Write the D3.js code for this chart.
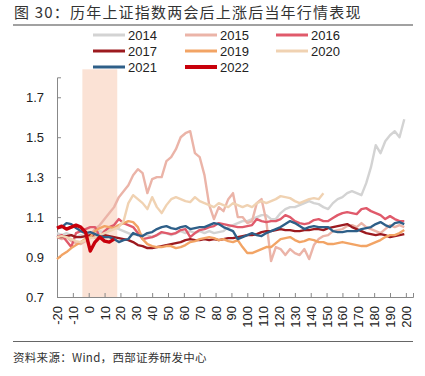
<!DOCTYPE html>
<html>
<head>
<meta charset="utf-8">
<script src="https://cdn.jsdelivr.net/npm/d3@7/dist/d3.min.js"></script>
<style>
body{margin:0;background:#fff;}
svg{display:block;}
</style>
</head>
<body>
<svg id="chart" width="425" height="376"></svg>
<script>
// trading days relative to the NPC/CPPCC sessions
const days = [-20,-17,-14,-11,-8,-5,-2,1,4,7,10,13,16,19,22,25,28,31,34,37,40,43,46,49,52,55,58,61,64,67,70,73,76,79,82,85,88,91,94,97,100,103,106,109,112,115,118,121,124,127,130,133,136,139,142,145,148,151,154,157,160,163,166,169,172,175,178,181,184,187,190,193,196,199];

const y2014 = [1.02,1.01,1.02,1.01,1.00,1.01,1.00,1.01,1.02,1.03,1.02,1.04,1.05,1.04,1.03,1.02,1.01,1.02,1.01,1.01,1.00,1.01,1.02,1.02,1.01,1.02,1.03,1.02,1.03,1.02,1.03,1.02,1.03,1.02,1.025,1.03,1.05,1.06,1.07,1.08,1.08,1.09,1.10,1.11,1.11,1.09,1.09,1.12,1.14,1.15,1.15,1.16,1.17,1.18,1.17,1.165,1.15,1.14,1.17,1.19,1.20,1.22,1.23,1.22,1.21,1.27,1.35,1.46,1.42,1.48,1.51,1.53,1.50,1.59];
const y2015 = [1.00,0.99,1.00,0.98,0.97,0.965,0.98,1.01,1.04,1.06,1.09,1.12,1.15,1.20,1.23,1.26,1.31,1.34,1.32,1.22,1.29,1.30,1.30,1.38,1.40,1.44,1.50,1.52,1.53,1.42,1.40,1.31,1.16,1.09,1.15,1.13,1.19,1.22,1.10,1.10,1.07,1.08,1.17,1.19,1.08,0.88,0.95,0.94,0.91,0.94,0.92,0.91,0.94,0.89,0.96,0.99,1.005,1.01,1.03,1.035,1.04,1.055,1.06,1.05,1.07,1.05,1.04,1.03,1.02,1.04,1.06,1.05,1.06,1.05];
const y2016 = [1.00,1.01,0.98,0.95,1.02,1.03,1.04,1.05,1.05,1.00,1.03,1.05,1.06,1.09,1.07,1.06,1.05,1.02,0.99,0.995,1.00,1.01,1.025,1.02,1.015,1.02,1.035,1.04,1.00,1.02,1.035,1.04,1.05,1.055,1.07,1.065,1.06,1.055,1.05,1.05,1.055,1.06,1.09,1.08,1.075,1.08,1.08,1.09,1.11,1.10,1.08,1.07,1.065,1.07,1.085,1.09,1.08,1.08,1.095,1.11,1.12,1.125,1.12,1.115,1.14,1.145,1.13,1.12,1.11,1.09,1.105,1.09,1.08,1.08];
const y2017 = [1.00,1.00,1.005,1.01,1.00,1.00,1.005,1.01,1.00,1.005,1.01,1.005,1.00,0.995,0.99,0.985,0.975,0.96,0.955,0.945,0.945,0.95,0.955,0.96,0.965,0.97,0.975,0.985,0.99,0.985,0.985,0.99,0.985,0.99,0.985,0.99,0.995,0.995,1.00,1.005,1.01,1.01,1.015,1.025,1.03,1.03,1.035,1.04,1.035,1.035,1.03,1.03,1.035,1.035,1.04,1.04,1.035,1.045,1.05,1.055,1.06,1.065,1.05,1.04,1.03,1.02,1.015,1.01,1.015,1.01,1.00,1.005,1.01,1.015];
const y2019 = [0.89,0.91,0.925,0.945,0.96,0.975,0.99,1.00,1.03,1.045,1.055,1.05,1.045,1.06,1.07,1.08,1.075,1.05,0.99,0.965,0.955,0.95,0.95,0.955,0.955,0.945,0.95,0.96,0.975,0.98,0.99,0.995,1.00,0.995,0.985,0.99,0.98,0.975,0.985,0.95,0.92,0.92,0.93,0.94,0.95,0.95,0.97,0.99,0.995,1.00,0.985,0.975,0.98,0.99,0.985,0.975,0.975,0.965,0.965,0.97,0.975,0.97,0.965,0.96,0.955,0.955,0.965,0.975,0.985,1.00,1.01,1.01,1.02,1.035];
const y2020 = [1.00,1.005,1.00,0.99,0.98,0.975,0.985,0.995,1.00,1.01,1.02,1.03,1.04,1.05,1.08,1.17,1.21,1.19,1.17,1.14,1.20,1.15,1.12,1.16,1.19,1.20,1.19,1.18,1.175,1.20,1.18,1.17,1.16,1.15,1.17,1.16,1.15,1.17,1.16,1.15,1.16,1.15,1.17,1.18,1.17,1.18,1.19,1.205,1.20,1.195,1.18,1.17,1.18,1.19,1.195,1.19,1.22];
const y2021 = [1.045,1.05,1.07,1.065,1.045,1.03,1.02,1.025,1.015,1.005,1.00,1.00,0.99,0.975,0.985,0.99,1.02,1.01,1.005,1.02,1.025,1.04,1.05,1.055,1.045,1.04,1.05,1.055,1.04,1.045,1.05,1.05,1.06,1.07,1.065,1.05,1.04,1.03,0.99,1.00,1.01,1.02,1.01,1.005,1.02,1.03,1.04,1.05,1.065,1.08,1.07,1.055,1.04,1.05,1.055,1.05,1.05,1.05,1.03,1.025,1.025,1.03,1.03,1.03,1.04,1.045,1.05,1.065,1.075,1.06,1.05,1.07,1.075,1.065];
const y2022 = [1.045,1.055,1.04,1.05,1.06,1.05,1.025,0.93,0.975,1.00,0.98,0.975,0.99];

const shadeRange = [-4, 18];
const shadeTop = 1.84;

const yTicks = [0.7, 0.9, 1.1, 1.3, 1.5, 1.7];
const xTicks = [-20,-10,0,10,20,30,40,50,60,70,80,90,100,110,120,130,140,150,160,170,180,190,200];

const series = [
  {name: "2014", values: y2014, color: "#d3d3d3", w: 2.4},
  {name: "2015", values: y2015, color: "#ebb4a8", w: 2.4},
  {name: "2016", values: y2016, color: "#e05a6b", w: 2.4},
  {name: "2017", values: y2017, color: "#9c1a1f", w: 2.4},
  {name: "2019", values: y2019, color: "#f2a465", w: 2.4},
  {name: "2020", values: y2020, color: "#f0d2b2", w: 2.4},
  {name: "2021", values: y2021, color: "#2e5f88", w: 2.4},
  {name: "2022", values: y2022, color: "#c8000b", w: 3.4}
];

const svg = d3.select("#chart");
const font = "'Liberation Sans', Arial, sans-serif";
const cjk = "'Noto Sans CJK SC', sans-serif";

// title
svg.append("text")
  .attr("x", 14).attr("y", 17.5)
  .attr("font-family", cjk).attr("font-size", 15).attr("fill", "#333")
  .attr("letter-spacing", 1.2)
  .text("图 30：历年上证指数两会后上涨后当年行情表现");
svg.append("line").attr("x1", 13).attr("x2", 413).attr("y1", 25).attr("y2", 25)
  .attr("stroke", "#444").attr("stroke-width", 1.2);

const x = d3.scaleLinear().domain([-20, 204.5]).range([57, 413]);
const y = d3.scaleLinear().domain([0.7, 1.8]).range([297, 77.3]);

// shaded window
svg.append("rect")
  .attr("x", x(shadeRange[0])).attr("width", x(shadeRange[1]) - x(shadeRange[0]))
  .attr("y", y(shadeTop)).attr("height", y(0.7) - y(shadeTop))
  .attr("fill", "#fbe2d5");

// axes
const gy = svg.append("g").attr("transform", "translate(57,0)")
  .call(d3.axisLeft(y).tickValues(yTicks).tickFormat(d3.format(".1f")).tickSize(-4).tickPadding(13));
const gx = svg.append("g").attr("transform", "translate(0,297)")
  .call(d3.axisBottom(x).tickValues(xTicks).tickFormat(d => d).tickSize(-4));

[gy, gx].forEach(g => {
  g.select(".domain").attr("stroke", "#888");
  g.selectAll(".tick line").attr("stroke", "#888");
  g.selectAll("text").attr("font-family", font).attr("font-size", 13).attr("fill", "#222");
});
gx.selectAll(".tick text")
  .attr("transform", "rotate(-90)")
  .attr("text-anchor", "end")
  .attr("x", -9).attr("y", 0).attr("dy", "0.35em");

// lines
const line = d3.line()
  .x((d, i) => x(days[i]))
  .y(d => y(d));

svg.append("g").selectAll("path")
  .data(series)
  .enter()
  .append("path")
  .attr("d", d => line(d.values))
  .attr("fill", "none")
  .attr("stroke", d => d.color)
  .attr("stroke-width", d => d.w)
  .attr("stroke-linejoin", "round");

// legend
const legX = [93, 185, 276];
const legY = [35, 51, 67];
const leg = svg.append("g").selectAll("g")
  .data(series)
  .enter()
  .append("g")
  .attr("transform", (d, i) => "translate(" + legX[i % 3] + "," + legY[Math.floor(i / 3)] + ")");
leg.append("line").attr("x1", 0).attr("x2", 32).attr("y1", 0).attr("y2", 0)
  .attr("stroke", d => d.color).attr("stroke-width", d => d.w + 0.6);
leg.append("text").attr("x", 35).attr("y", 0).attr("dy", "0.36em")
  .attr("font-family", font).attr("font-size", 13).attr("fill", "#222")
  .text(d => d.name);

// source
svg.append("line").attr("x1", 13).attr("x2", 413).attr("y1", 341.5).attr("y2", 341.5)
  .attr("stroke", "#666").attr("stroke-width", 1.2);
svg.append("text")
  .attr("x", 13).attr("y", 362)
  .attr("font-family", cjk).attr("font-size", 11.5).attr("fill", "#333")
  .attr("letter-spacing", 0.3)
  .text("资料来源：Wind，西部证券研发中心");
</script>
</body>
</html>
